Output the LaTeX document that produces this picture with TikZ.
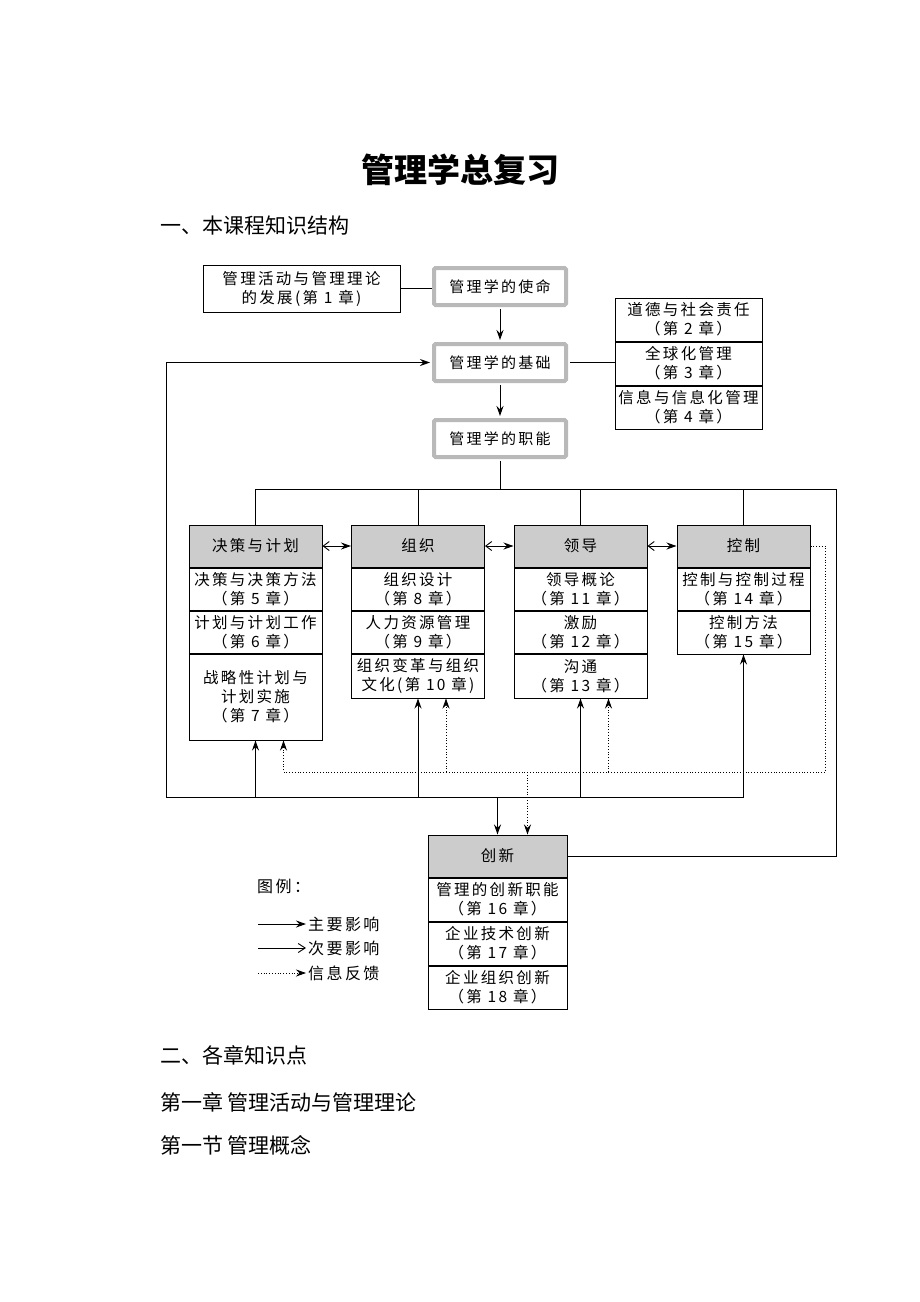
\documentclass[tikz,border=0pt]{standalone}
\usepackage{fontspec}
\setmainfont{Noto Sans CJK SC}
\newfontfamily\boxfont[LetterSpace=15]{Noto Sans CJK SC}
\usetikzlibrary{positioning, arrows.meta}
\tikzset{>=Stealth,
  cell/.style={draw, line width=1pt, minimum width=133, minimum height=42, inner sep=0pt, align=center,
    font=\boxfont\fontsize{15.5}{19}\selectfont},
  head/.style={cell, fill=gray!40},
  frame/.style={draw=gray!55, line width=4pt, rounded corners=1.5pt, fill=white, minimum width=132, minimum height=37,
    inner sep=0pt, font=\boxfont\fontsize{15}{18}\selectfont},
  wire/.style={line width=0.8pt},
  main/.style={line width=1pt, -{Stealth[length=10pt,width=7pt]}},
  minor/.style={line width=0.9pt, -{Straight Barb[length=7pt,width=9pt]}},
  both/.style={line width=0.9pt, {Straight Barb[length=6pt,width=9pt]}-{Stealth[length=10pt,width=7pt]}},
  fb/.style={dotted, line width=0.8pt, -{Stealth[length=10pt,width=7pt]}},
  legtext/.style={anchor=west, inner sep=2pt, font=\boxfont\fontsize{16}{19}\selectfont},
  sec/.style={anchor=west, inner sep=0pt, font=\fontsize{21}{25}\selectfont}}

\begin{document}
\begin{tikzpicture}[x=1pt, y=-1pt]
\useasboundingbox (0,0) rectangle (920,1302);

\node[font=\bfseries\fontsize{33}{40}\selectfont] (title) at (460,170) {管理学总复习};
\node[sec] (sec1) at (160,226) {一、本课程知识结构};

\node[cell, minimum width=197, minimum height=47] (ch1) at (301.5,288.5) {管理活动与管理理论\\的发展(第 1 章)};
\node[frame] (mission) at (500,286.5) {管理学的使命};
\node[frame] (basis) at (500,362.5) {管理学的基础};
\node[frame] (func) at (500,438.5) {管理学的职能};

\node[cell, minimum width=147, minimum height=43] (ethics) at (688.5,319.5) {道德与社会责任\\（第 2 章）};
\node[cell, minimum width=147, minimum height=43, below=0pt of ethics] (global) {全球化管理\\（第 3 章）};
\node[cell, minimum width=147, minimum height=43, below=0pt of global] (info) {信息与信息化管理\\（第 4 章）};

\node[head] (p0) at (255.5,546) {决策与计划};
\node[cell, below=0pt of p0] (p1) {决策与决策方法\\（第 5 章）};
\node[cell, below=0pt of p1] (p2) {计划与计划工作\\（第 6 章）};
\node[cell, minimum height=86, below=0pt of p2] (p3) {战略性计划与\\计划实施\\（第 7 章）};

\node[head] (o0) at (418,546) {组织};
\node[cell, below=0pt of o0] (o1) {组织设计\\（第 8 章）};
\node[cell, below=0pt of o1] (o2) {人力资源管理\\（第 9 章）};
\node[cell, minimum height=44, below=0pt of o2] (o3) {组织变革与组织\\文化(第 10 章)};

\node[head] (l0) at (580.5,546) {领导};
\node[cell, below=0pt of l0] (l1) {领导概论\\（第 11 章）};
\node[cell, below=0pt of l1] (l2) {激励\\（第 12 章）};
\node[cell, minimum height=44, below=0pt of l2] (l3) {沟通\\（第 13 章）};

\node[head] (c0) at (743.5,546) {控制};
\node[cell, below=0pt of c0] (c1) {控制与控制过程\\（第 14 章）};
\node[cell, minimum height=43, below=0pt of c1] (c2) {控制方法\\（第 15 章）};

\node[head, minimum width=139] (n0) at (497.5,856) {创新};
\node[cell, minimum width=139, minimum height=43, below=0pt of n0] (n1) {管理的创新职能\\（第 16 章）};
\node[cell, minimum width=139, minimum height=43, below=0pt of n1] (n2) {企业技术创新\\（第 17 章）};
\node[cell, minimum width=139, minimum height=43, below=0pt of n2] (n3) {企业组织创新\\（第 18 章）};

\draw[wire] (ch1.east) -- (ch1.east -| mission.west);
\draw[main, shorten <=2pt, shorten >=2pt] (mission.south) -- (basis.north);
\draw[main, shorten <=2pt, shorten >=2pt] (basis.south) -- (func.north);
\draw[wire, shorten <=2pt] (basis.east) -- (basis.east -| global.west);

\coordinate (busR) at (836,489);
\draw[wire, shorten <=2pt] (func.south) |- (busR) |- (n0.east);
\draw[wire] (p0.north) |- (busR);
\foreach \n in {o0,l0,c0} \draw[wire] (\n.north) -- (\n.north |- busR);

\draw[both] (p0) -- (o0);
\draw[both] (o0) -- (l0);
\draw[both] (l0) -- (c0);

\coordinate (loopL) at (166,797);
\draw[main, shorten >=2pt] (c2.south |- loopL) -- (loopL) |- (basis.west);
\foreach \n in {p3,o3,l3,c2} \draw[main] (\n.south |- loopL) -- (\n.south);
\draw[main] (n0.north |- loopL) -- (n0.north);

\coordinate (fbR) at (825,772);
\draw[fb] (c0.east) -| (fbR) -| ([xshift=28]p3.south);
\foreach \n in {o3,l3} \draw[fb] ([xshift=28]\n.south |- fbR) -- ([xshift=28]\n.south);
\draw[fb] ([xshift=30]n0.north |- fbR) -- ([xshift=30]n0.north);

\node[legtext, inner sep=0pt] (leg) at (257,886) {图例：};
\coordinate (k1) at (258,924);
\coordinate (k2) at (258,948);
\coordinate (k3) at (258,973);
\node[legtext] (t1) at (306,924) {主要影响};
\node[legtext] (t2) at (306,948) {次要影响};
\node[legtext] (t3) at (306,973) {信息反馈};
\draw[main] (k1) -- (t1.west);
\draw[minor] (k2) -- (t2.west);
\draw[fb] (k3) -- (t3.west);

\node[sec] (sec2) at (160,1055) {二、各章知识点};
\node[sec] (chap) at (160,1102) {第一章 管理活动与管理理论};
\node[sec] (part) at (160,1145) {第一节 管理概念};
\end{tikzpicture}
\end{document}
